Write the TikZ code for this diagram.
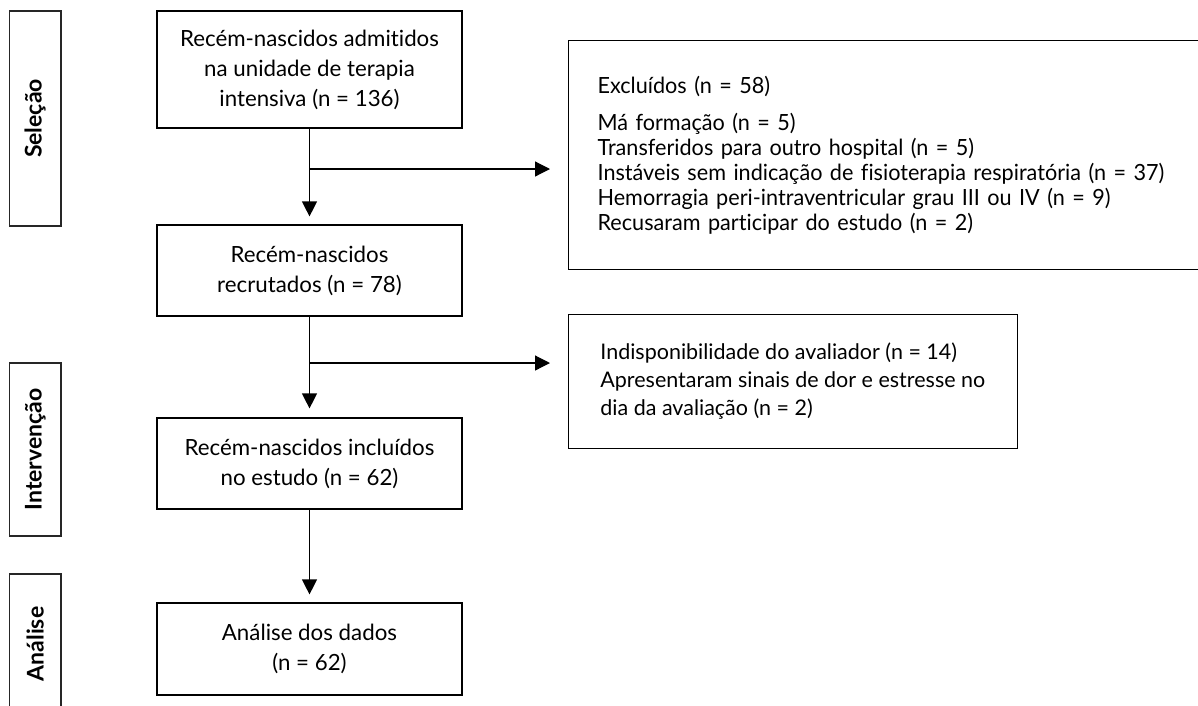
\documentclass[tikz,border=0pt]{standalone}
\usepackage{fontspec}
\setmainfont[Ligatures={NoCommon}]{Lato}
\newfontfamily\condfont[FakeStretch=0.97,Ligatures={NoCommon}]{Lato}
\usetikzlibrary{arrows.meta}
\tikzset{
  box/.style={draw=black, line width=1.2pt, minimum width=305pt, inner sep=0pt, align=center, font=\fontsize{22.3}{30}\selectfont},
  phase/.style={draw=black!85, line width=1.2pt, minimum height=51.5pt, inner sep=0pt, rotate=90, font=\fontsize{23}{26}\selectfont\bfseries},
  excl/.style={draw=black, line width=1.2pt, inner xsep=29pt, inner ysep=0pt, align=left},
  arr/.style={line width=1.2pt, -{Triangle[length=15pt,width=15pt]}},
}
\begin{document}
\begin{tikzpicture}[x=1pt,y=-1pt]
\useasboundingbox (0,0) rectangle (1198,705);
\clip (0,0) rectangle (1198,705);
% phase labels
\node[phase, minimum width=215pt] (sel) at (35.25,118.5) {Seleção};
\node[phase, minimum width=173pt] (int) at (35.25,449.5) {Intervenção};
\node[phase, minimum width=140pt] (ana) at (35.25,644) {Análise};
% main boxes
\node[box, minimum height=117pt] (b1) at (309.5,69.5) {Recém-nascidos admitidos\\na unidade de terapia\\intensiva (n = 136)};
\node[box, minimum height=91pt] (b2) at (309.5,270.5) {Recém-nascidos\\recrutados (n = 78)};
\node[box, minimum height=91pt] (b3) at (309.5,463.5) {Recém-nascidos incluídos\\no estudo (n = 62)};
\node[box, minimum height=92pt] (b4) at (309.5,649) {Análise dos dados\\(n = 62)};
% exclusion boxes
\node[excl, minimum width=640pt, minimum height=228.5pt, text width=582pt,
      font=\fontsize{22.3}{25}\condfont, anchor=north west] (e1) at (568,40)
  {Excluídos (n = 58)\\[12pt]
   Má formação (n = 5)\\
   Transferidos para outro hospital (n = 5)\\
   Instáveis sem indicação de fisioterapia respiratória (n = 37)\\
   Hemorragia peri-intraventricular grau III ou IV (n = 9)\\
   Recusaram participar do estudo (n = 2)};
\node[excl, minimum width=448.5pt, minimum height=133.5pt,
      font=\fontsize{21.5}{28}\selectfont, anchor=north west] (e2) at (568,314)
  {Indisponibilidade do avaliador (n = 14)\\
   Apresentaram sinais de dor e estresse no\\
   dia da avaliação (n = 2)};
% connectors
\coordinate (j1) at (b1.south |- 0,169);
\coordinate (j2) at (b2.south |- 0,363);
\draw[arr, shorten >=8pt] (b1.south) -- (b2.north);
\draw[arr, shorten >=18pt] (j1) -- (j1 -| e1.west);
\draw[arr, shorten >=9pt] (b2.south) -- (b3.north);
\draw[arr, shorten >=18pt] (j2) -- (j2 -| e2.west);
\draw[arr, shorten >=8pt] (b3.south) -- (b4.north);
\end{tikzpicture}
\end{document}
